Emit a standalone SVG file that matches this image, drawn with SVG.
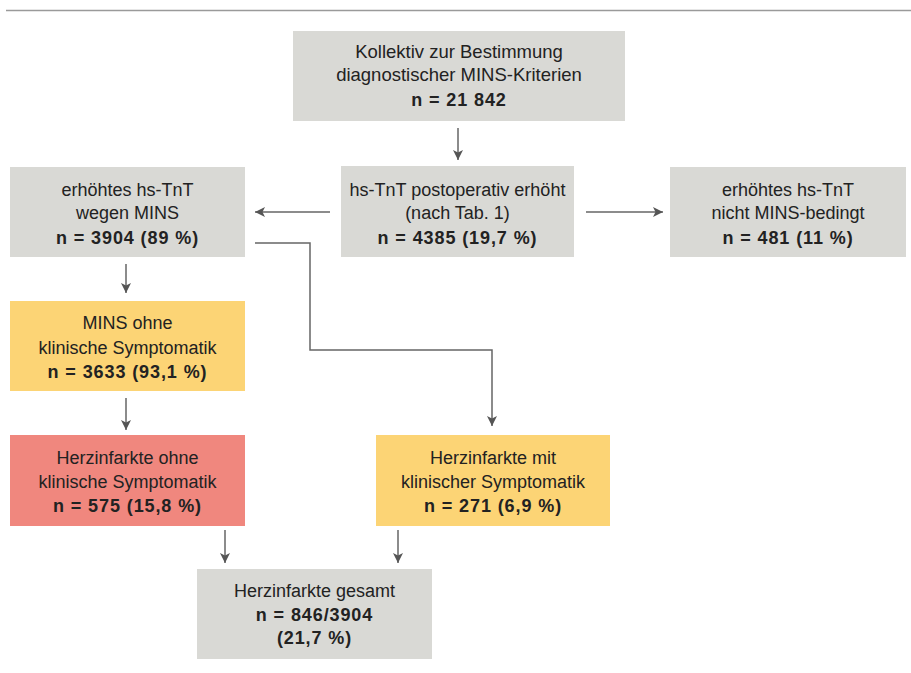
<svg xmlns="http://www.w3.org/2000/svg" width="911" height="673" viewBox="0 0 911 673">
<defs>
<marker id="ah" viewBox="0 0 10 12" refX="10" refY="6" markerWidth="10" markerHeight="12" markerUnits="userSpaceOnUse" orient="auto">
<path d="M0,1 L10,6 L0,11 L2.5,6 Z" fill="#555"/>
</marker>
<style>
.g{fill:#d9d9d5}
.y{fill:#fcd475}
.r{fill:#f0877e}
text{font-family:"Liberation Sans",Arial,sans-serif;font-size:18px;fill:#222;text-anchor:middle}
.b{font-weight:bold;letter-spacing:0.9px}
.t{font-size:18.5px}
.c{fill:none;stroke:#666;stroke-width:1.5}
</style>
</defs>
<rect width="911" height="673" fill="#fff"/>
<line x1="6" y1="10.5" x2="911" y2="10.5" stroke="#9a9a9a" stroke-width="1.5"/>
<g id="n1"><rect class="g" x="293" y="31" width="332" height="90"/>
<text x="459" y="58" class="t">Kollektiv zur Bestimmung</text>
<text x="459" y="81" class="t">diagnostischer MINS-Kriterien</text>
<text x="459" y="106" class="b">n = 21 842</text></g>
<g id="n2"><rect class="g" x="341" y="166" width="233" height="91"/>
<text x="457.5" y="196">hs-TnT postoperativ erhöht</text>
<text x="457.5" y="219">(nach Tab. 1)</text>
<text x="457.5" y="244" class="b">n = 4385 (19,7 %)</text></g>
<g id="n3"><rect class="g" x="10" y="167" width="235" height="90"/>
<text x="127.5" y="196">erhöhtes hs-TnT</text>
<text x="127.5" y="219">wegen MINS</text>
<text x="127.5" y="244" class="b">n = 3904 (89 %)</text></g>
<g id="n4"><rect class="g" x="670" y="167" width="236" height="90"/>
<text x="788" y="196">erhöhtes hs-TnT</text>
<text x="788" y="219">nicht MINS-bedingt</text>
<text x="788" y="244" class="b">n = 481 (11 %)</text></g>
<g id="n5"><rect class="y" x="10" y="301" width="235" height="90"/>
<text x="127.5" y="329">MINS ohne</text>
<text x="127.5" y="354">klinische Symptomatik</text>
<text x="127.5" y="378" class="b">n = 3633 (93,1 %)</text></g>
<g id="n6"><rect class="r" x="10" y="435" width="235" height="91"/>
<text x="127.5" y="464">Herzinfarkte ohne</text>
<text x="127.5" y="488">klinische Symptomatik</text>
<text x="127.5" y="512" class="b">n = 575 (15,8 %)</text></g>
<g id="n7"><rect class="y" x="376" y="435" width="234" height="91"/>
<text x="493" y="464">Herzinfarkte mit</text>
<text x="493" y="488">klinischer Symptomatik</text>
<text x="493" y="512" class="b">n = 271 (6,9 %)</text></g>
<g id="n8"><rect class="g" x="197" y="569" width="235" height="90"/>
<text x="314.5" y="597">Herzinfarkte gesamt</text>
<text x="314.5" y="621" class="b">n = 846/3904</text>
<text x="314.5" y="644" class="b">(21,7 %)</text></g>
<g id="connectors">
<line class="c" x1="458" y1="128" x2="458" y2="160" marker-end="url(#ah)"/>
<line class="c" x1="330" y1="212" x2="255" y2="212" marker-end="url(#ah)"/>
<line class="c" x1="586" y1="212" x2="663" y2="212" marker-end="url(#ah)"/>
<line class="c" x1="126" y1="264" x2="126" y2="293" marker-end="url(#ah)"/>
<polyline class="c" points="255,243 310,243 310,350 492,350 492,426" marker-end="url(#ah)"/>
<line class="c" x1="126" y1="398" x2="126" y2="430" marker-end="url(#ah)"/>
<line class="c" x1="225" y1="530" x2="225" y2="563" marker-end="url(#ah)"/>
<line class="c" x1="398" y1="530" x2="398" y2="563" marker-end="url(#ah)"/>
</g>
</svg>
